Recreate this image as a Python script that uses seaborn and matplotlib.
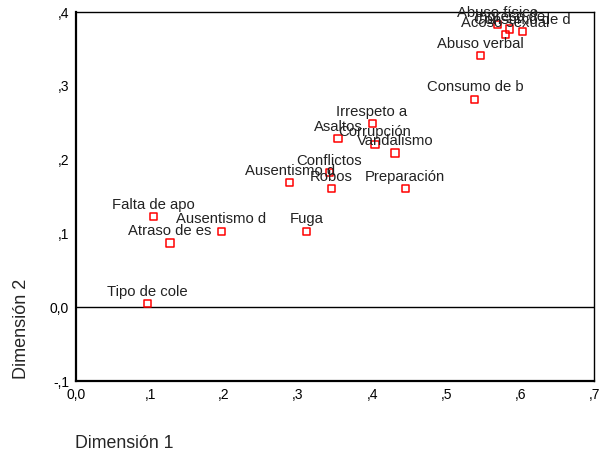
import matplotlib
matplotlib.use("Agg")
import matplotlib.pyplot as plt
import seaborn as sns
import pandas as pd
from matplotlib.ticker import FixedLocator, FuncFormatter

# ── Data ─────────────────────────────────────────────────────────────────────
labels = [
    "Tipo de cole", "Atraso de es", "Falta de apo", "Ausentismo d", "Fuga",
    "Ausentismo d", "Conflictos", "Robos", "Irrespeto a", "Asaltos",
    "Corrupción", "Vandalismo", "Preparación", "Consumo de b", "Abuso verbal",
    "Abuso físico", "Ingreso de", "Acoso sexual", "Consumo de d",
]
dim1 = [0.096, 0.127, 0.105, 0.196, 0.312,
        0.289, 0.342, 0.345, 0.400, 0.354,
        0.404, 0.431, 0.445, 0.539, 0.547,
        0.569, 0.586, 0.580, 0.603]
dim2 = [0.005, 0.087, 0.123, 0.103, 0.103,
        0.169, 0.182, 0.161, 0.249, 0.228,
        0.221, 0.209, 0.161, 0.282, 0.341,
        0.383, 0.377, 0.369, 0.373]

x_ticks = [0.0, 0.1, 0.2, 0.3, 0.4, 0.5, 0.6, 0.7]
y_ticks = [-0.1, 0.0, 0.1, 0.2, 0.3, 0.4]

df = pd.DataFrame({"label": labels, "dim1": dim1, "dim2": dim2})

sns.set_style("white")
plt.rcParams["font.family"] = ["Liberation Sans", "DejaVu Sans"]


def spss_fmt(v, pos=None):
    s = f"{v:.1f}".replace(".", ",")
    if s.startswith("0,") and abs(v) > 1e-9:
        s = s[1:]
    elif s.startswith("-0,"):
        s = "-" + s[2:]
    return s


fig = plt.figure(figsize=(6.05, 4.55), dpi=100)
ax = fig.add_axes([0.1256, 0.1626, 0.8564, 0.811])

sns.scatterplot(data=df, x="dim1", y="dim2", marker="s", s=26,
                facecolor="none", edgecolor="#ff0000", linewidth=1.1, ax=ax,
                zorder=3)

for _, r in df.iterrows():
    ax.annotate(r["label"], (r["dim1"], r["dim2"]), xytext=(0, 3.5),
                textcoords="offset points", ha="center", va="bottom",
                fontsize=10.7, color="#222222", zorder=4)

ax.axhline(0.0, color="black", linewidth=1.0, zorder=2)

ax.set_xlim(0.0, 0.7)
ax.set_ylim(-0.1, 0.4)
ax.xaxis.set_major_locator(FixedLocator(x_ticks))
ax.yaxis.set_major_locator(FixedLocator(y_ticks))
ax.xaxis.set_major_formatter(FuncFormatter(spss_fmt))
ax.yaxis.set_major_formatter(FuncFormatter(spss_fmt))
ax.tick_params(axis="both", direction="inout", length=4, width=2.5,
               labelsize=10, colors="black", pad=3)

for sp in ax.spines.values():
    sp.set_visible(True)
    sp.set_color("black")
    sp.set_linewidth(1.0)
ax.spines["left"].set_linewidth(1.6)
ax.spines["bottom"].set_linewidth(1.6)

ax.set_xlabel("")
ax.set_ylabel("")
fig.text(0.124, 0.026, "Dimensión 1", fontsize=12.8, ha="left", va="center")
fig.text(0.035, 0.277, "Dimensión 2", fontsize=13, ha="center", va="center",
         rotation=90)

fig.savefig("out.png", dpi=100)
plt.close(fig)
